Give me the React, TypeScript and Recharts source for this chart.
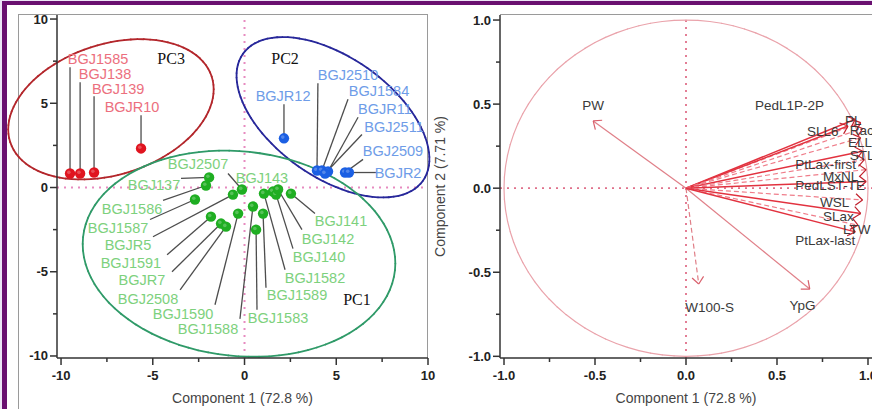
import React from 'react';
import { ScatterChart, Scatter, XAxis, YAxis, ReferenceLine, Label } from 'recharts';

const FONT = 'Arial, "Liberation Sans", sans-serif';

// ---- score plot (left) ----
const redNames = ['BGJ1585', 'BGJ138', 'BGJ139', 'BGJR10'];
const redX = [-9.51, -8.96, -8.2, -5.64];
const redY = [0.83, 0.83, 0.89, 2.32];

const blueNames = ['BGJR12', 'BGJ2510', 'BGJ1584', 'BGJR11', 'BGJ2511', 'BGJ2509', 'BGJR2'];
const blueX = [2.15, 3.95, 4.22, 4.55, 4.39, 5.48, 5.69];
const blueY = [2.92, 1.01, 1.01, 0.95, 0.83, 0.89, 0.89];

const greenNames = [
  'BGJ2507', 'BGJ137', 'BGJ143', 'BGJ1586', 'BGJ1587', 'BGJR5', 'BGJ1591', 'BGJR7', 'BGJ2508',
  'BGJ1590', 'BGJ1588', 'BGJ1583', 'BGJ1589', 'BGJ1582', 'BGJ140', 'BGJ142', 'BGJ141',
];
const greenX = [-0.14, -1.93, 1.55, -2.1, -2.7, -0.63, -1.83, -1.28, -1.01, -0.35, 0.46, 0.63, 1.01, 1.06, 1.72, 1.83, 2.53];
const greenY = [-0.12, 0.6, -0.24, 0.12, -0.71, -0.42, -1.73, -2.14, -2.32, -1.55, -1.13, -2.5, -1.55, -0.36, -0.42, -0.12, -0.36];

// where the name labels sit and where their leader lines start (data units)
const redLabelAt = [[-7.98, 7.62], [-7.6, 6.73], [-6.89, 5.83], [-6.13, 4.76]];
const redLeadFrom = [[-9.51, 7.14], [-8.96, 6.25], [-8.2, 5.42], [-5.64, 4.29]];
const blueLabelAt = [[2.1, 5.42], [5.64, 6.67], [7.33, 5.71], [7.65, 4.64], [8.15, 3.57], [8.09, 2.14], [8.37, 0.89]];
const blueLeadFrom = [[2.15, 4.94], [4.0, 6.19], [5.64, 5.24], [6.19, 4.17], [6.4, 3.15], [6.46, 1.67], [7.22, 0.89]];
const greenLabelAt = [
  [-2.53, 1.37], [-4.93, 0.12], [0.95, 0.54], [-6.13, -1.25], [-6.89, -2.38], [-6.35, -3.39], [-6.19, -4.46],
  [-5.59, -5.48], [-5.26, -6.61], [-3.35, -7.5], [-1.99, -8.39], [1.83, -7.74], [2.86, -6.37], [3.84, -5.36],
  [4.06, -4.11], [4.55, -3.04], [5.26, -1.96],
];
const greenLeadFrom: (number[] | null)[] = [
  [-0.9, 0.83], [-3.46, 0.54], null, [-4.44, -0.77], [-5.15, -1.9], [-4.99, -2.92], [-4.22, -3.99],
  [-3.95, -5.0], [-3.51, -6.07], [-1.61, -6.96], [-0.25, -7.8], [0.68, -7.26], [1.17, -5.95], [2.21, -4.88],
  [2.64, -3.63], [3.13, -2.5], [3.84, -1.55],
];

// group ellipses: centre and two conjugate semi-axes, data units
const groupNames = ['PC3', 'PC2', 'PC1'];
const groupCentre = [[-7.28, 4.64], [4.82, 4.17], [-0.3, -3.93]];
const groupU = [[5.49, 1.95], [4.91, -3.76], [8.5, -0.98]];
const groupV = [[1.1, -3.68], [-1.875, -2.92], [-0.58, -6.04]];
const groupColor = ['#b3262b', '#27279a', '#2f9a68'];
const groupLabelAt = [[-4.0, 7.66], [2.21, 7.66], [6.13, -6.65]];

const leftXTicks = [-10, -7.5, -5, -2.5, 0, 2.5, 5, 7.5, 10];
const leftYTicks = [-10, -7.5, -5, -2.5, 0, 2.5, 5, 7.5, 10];

// ---- loading plot (right) ----
const loadNames = [
  'PW', 'W100-S', 'YpG', 'PedL1P-2P', 'PL', 'SLL6', 'RacL', 'ELL', 'STL', 'PtLax-first',
  'MxNL', 'PedLST-TE', 'WSL', 'SLax', 'LTW', 'PtLax-last',
];
const loadX = [-0.51, 0.07, 0.68, 0.93, 0.96, 0.89, 0.97, 0.96, 0.97, 0.98, 0.99, 0.99, 0.97, 0.96, 0.945, 0.93];
const loadY = [0.4, -0.57, -0.6, 0.41, 0.39, 0.37, 0.355, 0.3, 0.22, 0.17, 0.11, 0.04, -0.07, -0.15, -0.22, -0.26];
const loadDashed = [false, true, false, false, true, false, true, true, false, true, true, false, true, false, true, false];
const loadLabelAt = [
  [-0.51, 0.49], [0.13, -0.71], [0.64, -0.7], [0.379, 0.494], [0.874, 0.405], [0.665, 0.34], [0.9, 0.345],
  [0.89, 0.274], [0.9, 0.196], [0.6, 0.143], [0.753, 0.071], [0.6, 0.018], [0.736, -0.083], [0.753, -0.167],
  [0.863, -0.244], [0.6, -0.31],
];
const rightTicks = [-1, -0.75, -0.5, -0.25, 0, 0.25, 0.5, 0.75, 1];

// layout
const L_DOM_X = [-10.22, 10];
const L_DOM_Y = [-10.12, 10.24];
const R_DOM_X = [-1.022, 1.022];
const R_DOM_Y = [-1.01, 1.03];
const R_PLOT_W = 372;
const R_PLOT_H = 343;

const ellipse = (c: number[], u: number[], v: number[]) =>
  Array.from({ length: 97 }, (_, i) => {
    const t = (i / 96) * Math.PI * 2;
    return { x: c[0] + u[0] * Math.cos(t) + v[0] * Math.sin(t), y: c[1] + u[1] * Math.cos(t) + v[1] * Math.sin(t) };
  });

// outline drawn as unclipped segments so it may leave the plot area like the original
const outline = (pts: { x: number; y: number }[], color: string, width: number, key: string) =>
  pts.slice(1).map((p, i) => (
    <ReferenceLine
      key={key + i}
      segment={[pts[i], p]}
      stroke={color}
      strokeWidth={width}
      ifOverflow="visible"
      strokeLinecap="round"
    />
  ));

const dot = (color: string) => (p: any) => (
  <g>
    <circle cx={p.cx} cy={p.cy} r={5.2} fill={color} />
    <circle cx={p.cx - 1.2} cy={p.cy - 1.2} r={1.8} fill="#ffffff" fillOpacity={0.25} />
  </g>
);

const textShape = (color: string, size: number, family = FONT) => (p: any) => (
  <text
    x={p.cx}
    y={p.cy}
    fill={color}
    fontSize={size}
    fontFamily={family}
    textAnchor={p.payload.anchor || 'middle'}
    dominantBaseline="central"
  >
    {p.payload.name}
  </text>
);

const XTick = (p: any) => {
  const v = p.payload.value;
  const major = Math.abs(v / p.step - Math.round(v / p.step)) < 1e-6;
  return (
    <g>
      <line x1={p.x} x2={p.x} y1={p.y} y2={p.y + (major ? 7 : 4)} stroke="#333" strokeWidth={1.5} />
      {major && (
        <text x={p.x} y={p.y + 17} textAnchor="middle" dominantBaseline="central" fontSize={13} fontWeight="bold" fontFamily={FONT} fill="#222">
          {p.fmt(v)}
        </text>
      )}
    </g>
  );
};

const YTick = (p: any) => {
  const v = p.payload.value;
  const major = Math.abs(v / p.step - Math.round(v / p.step)) < 1e-6;
  return (
    <g>
      <line x1={p.x - (major ? 7 : 4)} x2={p.x} y1={p.y} y2={p.y} stroke="#333" strokeWidth={1.5} />
      {major && (
        <text x={p.x - 9} y={p.y} textAnchor="end" dominantBaseline="central" fontSize={13} fontWeight="bold" fontFamily={FONT} fill="#222">
          {p.fmt(v)}
        </text>
      )}
    </g>
  );
};

const fmtInt = (v: number) => String(v);
const fmtOne = (v: number) => v.toFixed(1);

const scoreSeries = (names: string[], xs: number[], ys: number[]) => names.map((name, i) => ({ name, x: xs[i], y: ys[i] }));
const labelSeries = (names: string[], at: number[][], anchor?: string) =>
  names.map((name, i) => ({ name, x: at[i][0], y: at[i][1], anchor }));

const leaders = (xs: number[], ys: number[], from: (number[] | null)[], key: string) =>
  from.map((f, i) =>
    f ? (
      <ReferenceLine
        key={key + i}
        segment={[{ x: f[0], y: f[1] }, { x: xs[i], y: ys[i] }]}
        stroke="#4d4d4d"
        strokeWidth={1.3}
      />
    ) : null,
  );

const ScorePlot = () => (
  <ScatterChart width={440} height={409} margin={{ top: 15, right: 12, bottom: 1, left: 17 }}>
    <XAxis
      type="number"
      dataKey="x"
      domain={L_DOM_X}
      ticks={leftXTicks}
      allowDataOverflow
      height={50}
      tickSize={0}
      tickMargin={0}
      tickLine={false}
      axisLine={{ stroke: '#333', strokeWidth: 1.5 }}
      tick={(p: any) => <XTick {...p} step={5} fmt={fmtInt} />}
      interval={0}
    >
      <Label value="Component 1 (72.8 %)" position="insideBottom" offset={5} fill="#444" fontSize={14} fontFamily={FONT} />
    </XAxis>
    <YAxis
      type="number"
      dataKey="y"
      domain={L_DOM_Y}
      ticks={leftYTicks}
      allowDataOverflow
      width={40}
      tickSize={0}
      tickMargin={0}
      tickLine={false}
      axisLine={{ stroke: '#333', strokeWidth: 1.5 }}
      tick={(p: any) => <YTick {...p} step={5} fmt={fmtInt} />}
      interval={0}
    />
    <ReferenceLine x={0} stroke="#e78bc0" strokeWidth={2} strokeDasharray="2 5" />
    <ReferenceLine y={0} stroke="#e78bc0" strokeWidth={2} strokeDasharray="2 5" />
    {groupNames.map((g, i) => outline(ellipse(groupCentre[i], groupU[i], groupV[i]), groupColor[i], 1.8, g))}
    {leaders(redX, redY, redLeadFrom, 'r')}
    {leaders(blueX, blueY, blueLeadFrom, 'b')}
    {leaders(greenX, greenY, greenLeadFrom, 'g')}
    <Scatter data={scoreSeries(redNames, redX, redY)} shape={dot('#e0141f')} isAnimationActive={false} />
    <Scatter data={scoreSeries(blueNames, blueX, blueY)} shape={dot('#1b5fe3')} isAnimationActive={false} />
    <Scatter data={scoreSeries(greenNames, greenX, greenY)} shape={dot('#1fae22')} isAnimationActive={false} />
    <Scatter data={labelSeries(redNames, redLabelAt)} shape={textShape('#ec6f7e', 14.5)} isAnimationActive={false} />
    <Scatter data={labelSeries(blueNames, blueLabelAt)} shape={textShape('#6e9ce8', 14.5)} isAnimationActive={false} />
    <Scatter data={labelSeries(greenNames, greenLabelAt)} shape={textShape('#7dd17d', 14.5)} isAnimationActive={false} />
    <Scatter
      data={labelSeries(groupNames, groupLabelAt)}
      shape={textShape('#111', 16, '"Liberation Serif", "Times New Roman", serif')}
      isAnimationActive={false}
    />
  </ScatterChart>
);

const sx = R_PLOT_W / (R_DOM_X[1] - R_DOM_X[0]);
const sy = R_PLOT_H / (R_DOM_Y[1] - R_DOM_Y[0]);

const barbs = (x: number, y: number, i: number) => {
  const back = Math.atan2(-y * sy, -x * sx);
  return [-0.7, 0.7].map((d, k) => {
    const a = back + d;
    return (
      <ReferenceLine
        key={'h' + i + k}
        segment={[{ x, y }, { x: x + (9 * Math.cos(a)) / sx, y: y + (9 * Math.sin(a)) / sy }]}
        stroke={i < 3 ? '#d9606c' : '#c0202c'}
        strokeWidth={1.2}
        ifOverflow="visible"
      />
    );
  });
};

const LoadingPlot = () => (
  <ScatterChart width={452} height={409} margin={{ top: 15, right: 0, bottom: 1, left: 30 }}>
    <XAxis
      type="number"
      dataKey="x"
      domain={R_DOM_X}
      ticks={rightTicks}
      allowDataOverflow
      height={50}
      tickSize={0}
      tickMargin={0}
      tickLine={false}
      axisLine={{ stroke: '#333', strokeWidth: 1.5 }}
      tick={(p: any) => <XTick {...p} step={0.5} fmt={fmtOne} />}
      interval={0}
    >
      <Label value="Component 1 (72.8 %)" position="insideBottom" offset={5} fill="#444" fontSize={14} fontFamily={FONT} />
    </XAxis>
    <YAxis
      type="number"
      dataKey="y"
      domain={R_DOM_Y}
      ticks={rightTicks}
      allowDataOverflow
      width={50}
      tickSize={0}
      tickMargin={0}
      tickLine={false}
      axisLine={{ stroke: '#333', strokeWidth: 1.5 }}
      tick={(p: any) => <YTick {...p} step={0.5} fmt={fmtOne} />}
      interval={0}
    >
      <Label
        content={(p: any) => {
          const cx = p.viewBox.x - 10;
          const cy = p.viewBox.y + p.viewBox.height / 2;
          return (
            <text x={cx} y={cy} transform={`rotate(-90 ${cx} ${cy})`} textAnchor="middle" dominantBaseline="central" fill="#444" fontSize={14} fontFamily={FONT}>
              Component 2 (7.71 %)
            </text>
          );
        }}
      />
    </YAxis>
    <ReferenceLine x={0} stroke="#e0708a" strokeWidth={1.8} strokeDasharray="2 5" />
    <ReferenceLine y={0} stroke="#e0708a" strokeWidth={1.8} strokeDasharray="2 5" />
    {outline(ellipse([0, 0], [1, 0], [0, 1]), '#eaa3ab', 1.2, 'circle')}
    {loadNames.map((n, i) => (
      <ReferenceLine
        key={n}
        segment={[{ x: 0, y: 0 }, { x: loadX[i], y: loadY[i] }]}
        stroke={i < 3 ? '#e07f88' : loadDashed[i] ? '#ef7d8a' : '#e2323f'}
        strokeWidth={i < 3 ? 1.2 : loadDashed[i] ? 1.2 : 1.5}
        strokeDasharray={loadDashed[i] ? '5 3' : undefined}
      />
    ))}
    {loadNames.map((n, i) => barbs(loadX[i], loadY[i], i))}
    <Scatter
      data={loadNames.map((name, i) => ({ name, x: loadLabelAt[i][0], y: loadLabelAt[i][1], anchor: i < 3 ? 'middle' : 'start' }))}
      shape={textShape('#3a3a3a', 13.5)}
      isAnimationActive={false}
    />
  </ScatterChart>
);

export default function App() {
  return (
    <div style={{ position: 'fixed', left: 0, top: 0, width: 872, height: 409, overflow: 'hidden', background: '#ece6f6' }}>
      <div
        style={{
          position: 'absolute',
          left: 2,
          top: 1,
          width: 880,
          height: 420,
          background: '#ffffff',
          borderLeft: '5px solid #6a1070',
          borderTop: '4px solid #6a1070',
          boxSizing: 'border-box',
        }}
      />
      <div style={{ position: 'absolute', left: 18, top: 14, width: 410, height: 344, borderTop: '1px solid #9a9a9a', borderRight: '1px solid #9a9a9a', boxSizing: 'border-box' }} />
      <div style={{ position: 'absolute', left: 18, top: 14, width: 1, height: 400, background: '#9a9a9a' }} />
      <div style={{ position: 'absolute', left: 500, top: 14, width: 380, height: 1, background: '#9a9a9a' }} />
      <div style={{ position: 'absolute', left: 0, top: 0 }}>
        <ScorePlot />
      </div>
      <div style={{ position: 'absolute', left: 420, top: 0 }}>
        <LoadingPlot />
      </div>
    </div>
  );
}
